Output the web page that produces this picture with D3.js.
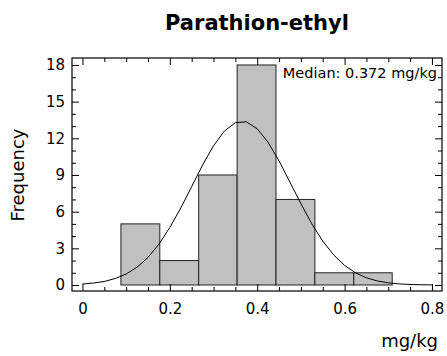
<!DOCTYPE html>
<html><head><meta charset="utf-8">
<script src="https://cdn.jsdelivr.net/npm/d3@7"></script>
<style>body{margin:0;background:#fff}svg{display:block}text{font-family:"DejaVu Sans",sans-serif;fill:#000}</style>
</head><body><svg id="c" width="447" height="356"></svg>
<script>
const title = "Parathion-ethyl";
const xLabel = "mg/kg";
const yLabel = "Frequency";
const medianLabel = "Median: 0.372 mg/kg";
const binEdges = [0.088, 0.177, 0.266, 0.354, 0.443, 0.532, 0.621, 0.709];
const counts = [5, 2, 9, 18, 7, 1, 1];
const curveX = [0,0.025,0.05,0.075,0.1,0.125,0.15,0.175,0.2,0.225,0.25,0.275,0.3,0.325,0.35,0.375,0.4,0.425,0.45,0.475,0.5,0.525,0.55,0.575,0.6,0.625,0.65,0.675,0.7,0.725,0.75,0.775,0.8];
const curveY = [0.08,0.16,0.29,0.53,0.9,1.46,2.26,3.34,4.71,6.3,8.05,9.82,11.39,12.6,13.28,13.35,12.78,11.67,10.15,8.41,6.65,5.0,3.59,2.46,1.6,0.99,0.59,0.33,0.18,0.09,0.04,0.02,0.01];
const xTicks = [0, 0.2, 0.4, 0.6, 0.8];
const xMinor = [0.05,0.1,0.15,0.25,0.3,0.35,0.45,0.5,0.55,0.65,0.7,0.75];
const yTicks = [0, 3, 6, 9, 12, 15, 18];
const yMinor = [1,2,4,5,7,8,10,11,13,14,16,17];

const L = 72, R = 442, T = 58, B = 291;
const svg = d3.select("#c");
const x = d3.scaleLinear().domain([-0.024, 0.823]).range([L, R]);
const y = d3.scaleLinear().domain([-0.49, 18.57]).range([B, T]);

const bins = counts.map((c, i) => ({x0: binEdges[i], x1: binEdges[i+1], c}));
svg.append("g").selectAll("rect").data(bins).join("rect")
  .attr("x", d => x(d.x0)).attr("y", d => y(d.c))
  .attr("width", d => x(d.x1) - x(d.x0)).attr("height", d => y(0) - y(d.c))
  .attr("fill", "#c0c0c0").attr("stroke", "#222").attr("stroke-width", 1);

const line = d3.line().x((d,i) => x(curveX[i])).y(d => y(d));
svg.append("path").datum(curveY).attr("d", line).attr("fill", "none").attr("stroke", "#000").attr("stroke-width", 1);

function ax(gen, tr, vals, size, fmt, pad) {
  const g = svg.append("g").attr("transform", tr)
    .call(gen.tickValues(vals).tickSizeInner(size).tickSizeOuter(0).tickPadding(pad || 8).tickFormat(fmt));
  g.select(".domain").remove();
  g.selectAll("line").attr("stroke", "#000");
  g.selectAll("text").attr("font-size", 15).attr("font-family", "DejaVu Sans");
  return g;
}
const none = () => "";
ax(d3.axisBottom(x), `translate(0,${B})`, xTicks, -7, d => d === 0 ? "0" : d3.format(".1f")(d)).selectAll("text").attr("y", 12).attr("dy", "0.75em");
ax(d3.axisBottom(x), `translate(0,${B})`, xMinor, -4, none);
ax(d3.axisTop(x), `translate(0,${T})`, xTicks, -7, none);
ax(d3.axisTop(x), `translate(0,${T})`, xMinor, -4, none);
ax(d3.axisLeft(y), `translate(${L},0)`, yTicks, -7, d => d).selectAll("text").attr("x", -7);
ax(d3.axisLeft(y), `translate(${L},0)`, yMinor, -4, none);
ax(d3.axisRight(y), `translate(${R},0)`, yTicks, -7, none);
ax(d3.axisRight(y), `translate(${R},0)`, yMinor, -4, none);

svg.append("rect").attr("x", L).attr("y", T).attr("width", R - L).attr("height", B - T)
  .attr("fill", "none").attr("stroke", "#000").attr("stroke-width", 1.2);

svg.append("text").attr("x", 257).attr("y", 30).attr("text-anchor", "middle")
  .attr("font-size", 21).attr("font-weight", "bold").text(title);
svg.append("text").attr("x", 437).attr("y", 78).attr("text-anchor", "end")
  .attr("font-size", 14.5).text(medianLabel);
svg.append("text").attr("x", 438).attr("y", 347).attr("text-anchor", "end")
  .attr("font-size", 18).text(xLabel);
svg.append("text").attr("transform", "translate(24,175) rotate(-90)").attr("text-anchor", "middle")
  .attr("font-size", 18).text(yLabel);
</script></body></html>
